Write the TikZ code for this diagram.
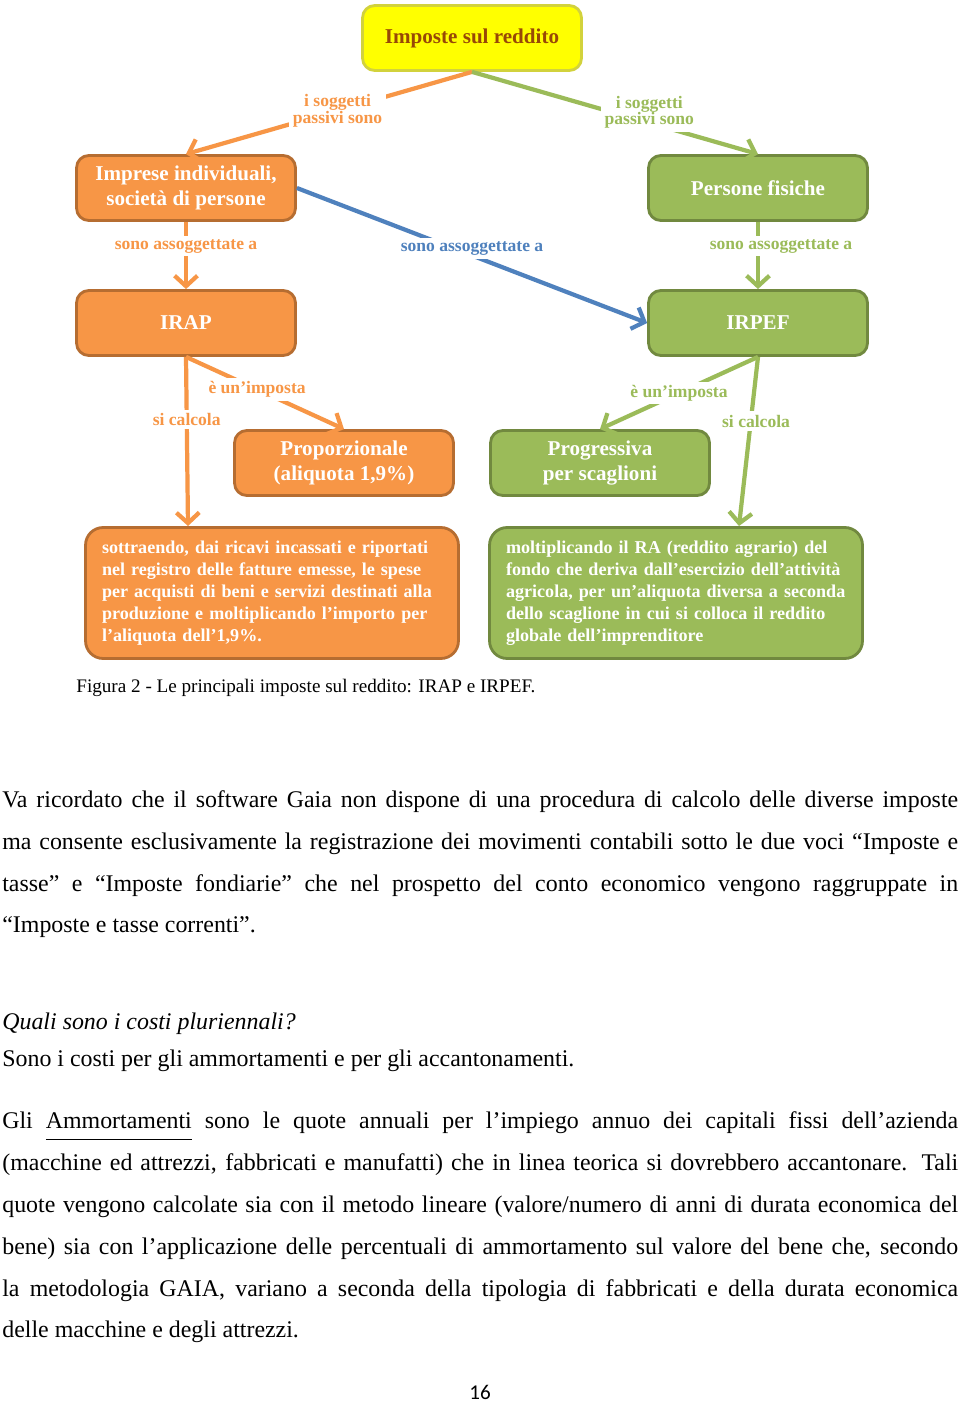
\documentclass[tikz,border=0pt]{standalone}
\usepackage{fontspec}
\setmainfont{Liberation Serif}
\newfontfamily\numfont{Carlito}
\usetikzlibrary{arrows.meta}

\definecolor{arancio}{HTML}{F79646}
\definecolor{arancioscuro}{HTML}{B66D31}
\definecolor{verde}{HTML}{9BBB59}
\definecolor{verdescuro}{HTML}{71893F}
\definecolor{blu}{HTML}{4F81BD}
\definecolor{giallo}{HTML}{FFFF00}
\definecolor{giallobordo}{HTML}{D2D23C}
\definecolor{marrone}{HTML}{984806}

\newlength{\larga}\setlength{\larga}{19.12cm}
\newcommand{\giusta}[1]{\makebox[\larga][s]{#1}}

\tikzset{
  blocco/.style={rounded corners=7pt, line width=1.6pt, minimum width=4.38cm, minimum height=1.3cm,
    align=center, text=white, font=\fontsize{12}{14.7}\selectfont\bfseries},
  arancione/.style={blocco, fill=arancio, draw=arancioscuro},
  verdone/.style={blocco, fill=verde, draw=verdescuro},
  spiega/.style={rounded corners=10pt, line width=1.6pt, minimum width=7.46cm, minimum height=2.62cm,
    text width=6.8cm, inner xsep=0.33cm, align=left, text=white, font=\fontsize{10.3}{12.6}\selectfont\bfseries},
  freccia/.style={line width=2.4pt, -{Straight Barb[length=6pt,width=13pt]}},
  etich/.style={fill=white, inner sep=2pt, align=center, font=\fontsize{10}{9.5}\selectfont\bfseries},
  corpo/.style={anchor=base west, inner sep=0pt, font=\fontsize{13.6}{16}\selectfont},
}

\begin{document}
\begin{tikzpicture}[x=0.02cm, y=-0.02cm]
  \path[use as bounding box, fill=white] (0,0) rectangle (960,1402);

  % schema
  \node[blocco, fill=giallo, draw=giallobordo, text=marrone] (imposte) at (472,38) {Imposte sul reddito};
  \node[arancione] (imprese) at (186,188) {Imprese individuali,\\società di persone};
  \node[verdone] (persone) at (758,188) {Persone fisiche};
  \node[arancione] (irap) at (186,323) {IRAP};
  \node[verdone] (irpef) at (758,323) {IRPEF};
  \node[arancione] (prop) at (344,463) {Proporzionale\\(aliquota 1,9\%)};
  \node[verdone] (prog) at (600,463) {Progressiva\\per scaglioni};
  \node[spiega, fill=arancio, draw=arancioscuro] (calcirap) at (272,593)
    {sottraendo, dai ricavi incassati e riportati\\nel registro delle fatture emesse, le spese\\per acquisti di beni e servizi destinati alla\\produzione e moltiplicando l’importo per\\l’aliquota dell’1,9\%.};
  \node[spiega, fill=verde, draw=verdescuro] (calcirpef) at (676,593)
    {moltiplicando il RA (reddito agrario) del\\fondo che deriva dall’esercizio dell’attività\\agricola, per un’aliquota diversa a seconda\\dello scaglione in cui si colloca il reddito\\globale dell’imprenditore};
  \coordinate (finirap) at (188,526);
  \coordinate (finirpef) at (739,526);

  \draw[freccia, arancio] (imposte.south) -- node[etich, pos=.47, text=arancio]{i soggetti\\passivi sono} (imprese.north);
  \draw[freccia, verde] (imposte.south) -- node[etich, pos=.62, yshift=6pt, text=verde]{i soggetti\\passivi sono} (persone.north);
  \draw[freccia, arancio] (imprese.south) -- node[etich, pos=.36, text=arancio]{sono assoggettate a} (irap.north);
  \draw[freccia, verde] (persone.south) -- node[etich, pos=.36, xshift=0.46cm, text=verde]{sono assoggettate a} (irpef.north);
  \draw[freccia, blu] (imprese.east) -- node[etich, pos=.5, yshift=4pt, text=blu]{sono assoggettate a} (irpef.west);
  \draw[freccia, arancio] (irap.south) -- node[etich, pos=.45, text=arancio]{è un’imposta} (prop.north);
  \draw[freccia, arancio] (irap.south) -- node[etich, pos=.37, text=arancio]{si calcola} (finirap);
  \draw[freccia, verde] (irpef.south) -- node[etich, pos=.5, text=verde]{è un’imposta} (prog.north);
  \draw[freccia, verde] (irpef.south) -- node[etich, pos=.38, xshift=3pt, text=verde]{si calcola} (finirpef);

  \node[anchor=base west, inner sep=0pt, font=\fontsize{10.9}{12}\selectfont] (didascalia) at (76,692)
    {Figura 2 - Le principali imposte sul reddito: IRAP e IRPEF.};

  % testo della pagina
  \node[corpo] (r1) at (2,807) {\giusta{Va ricordato che il software Gaia non dispone di una procedura di calcolo delle diverse imposte}};
  \node[corpo] (r2) at (2,849) {\giusta{ma consente esclusivamente la registrazione dei movimenti contabili sotto le due voci “Imposte e}};
  \node[corpo] (r3) at (2,891) {\giusta{tasse” e “Imposte fondiarie” che nel prospetto del conto economico vengono raggruppate in}};
  \node[corpo] (r4) at (2,932) {“Imposte e tasse correnti”.};
  \node[corpo] (domanda) at (2,1029) {\itshape Quali sono i costi pluriennali?};
  \node[corpo] (risposta) at (2,1066) {Sono i costi per gli ammortamenti e per gli accantonamenti.};
  \node[corpo] (s1) at (2,1128) {\giusta{Gli \underline{Ammortamenti\strut} sono le quote annuali per l’impiego annuo dei capitali fissi dell’azienda}};
  \node[corpo] (s2) at (2,1170) {\giusta{(macchine ed attrezzi, fabbricati e manufatti) che in linea teorica si dovrebbero accantonare. Tali}};
  \node[corpo] (s3) at (2,1212) {\giusta{quote vengono calcolate sia con il metodo lineare (valore/numero di anni di durata economica del}};
  \node[corpo] (s4) at (2,1254) {\giusta{bene) sia con l’applicazione delle percentuali di ammortamento sul valore del bene che, secondo}};
  \node[corpo] (s5) at (2,1296) {\giusta{la metodologia GAIA, variano a seconda della tipologia di fabbricati e della durata economica}};
  \node[corpo] (s6) at (2,1337) {delle macchine e degli attrezzi.};
  \node[anchor=base, inner sep=0pt, font=\numfont\fontsize{12}{14}\selectfont] (pagina) at (480,1399) {16};
\end{tikzpicture}
\end{document}
